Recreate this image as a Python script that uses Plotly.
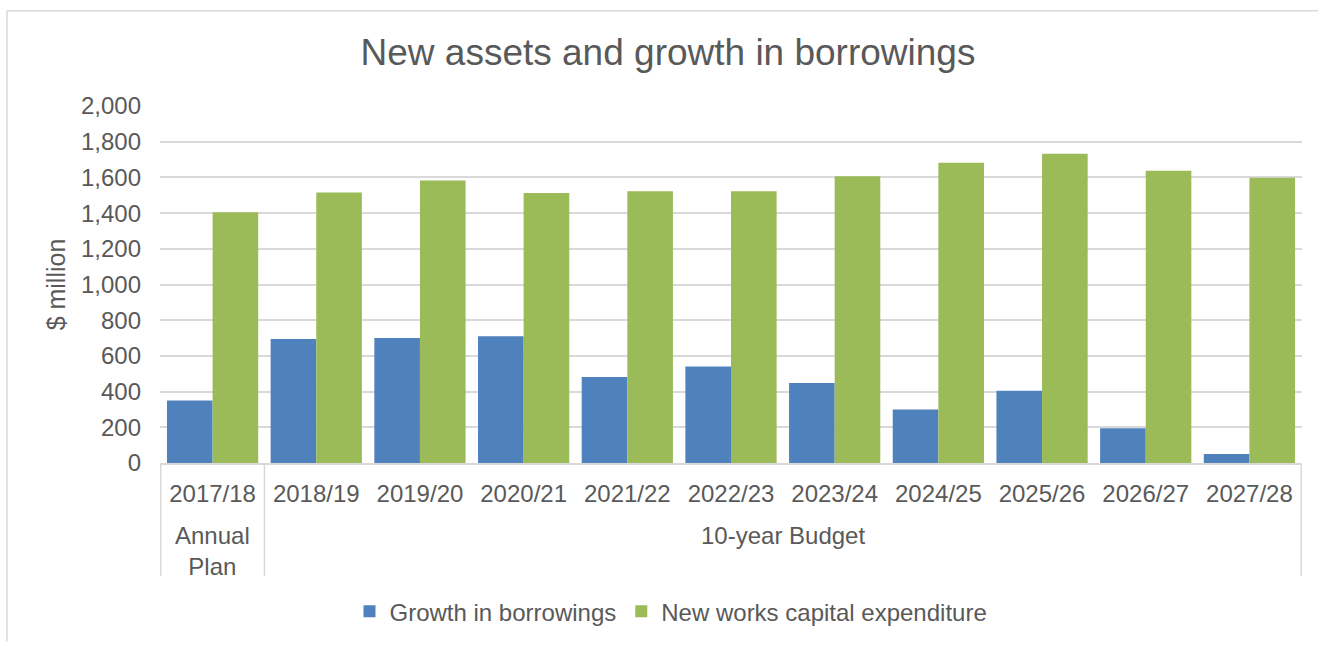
import plotly.graph_objects as go

# Financial years, grouped by planning document
years = ["2017/18", "2018/19", "2019/20", "2020/21", "2021/22", "2022/23",
         "2023/24", "2024/25", "2025/26", "2026/27", "2027/28"]
group_names = ["Annual<br>Plan", "10-year Budget"]
group_sizes = [1, 10]

# $ million
growth_in_borrowings = [350, 695, 700, 710, 482, 540, 448, 300, 405, 195, 50]
new_works_capex = [1405, 1515, 1583, 1512, 1522, 1522, 1606, 1682, 1732, 1637, 1598]

BLUE = "#4F81BD"
GREEN = "#9BBB59"
GRID = "#D9D9D9"
TEXT = "#595959"
FONT = "Liberation Sans, Arial, sans-serif"

# plot-area pixel geometry
W, H = 1318, 646
L, R, T, B = 160, 16, 106, 180
PW, PH = W - L - R, H - T - B


def px_x(x):
    return (x - L) / PW


def px_y(y):
    return (H - B - y) / PH


fig = go.Figure()
fig.add_trace(go.Bar(x=years, y=growth_in_borrowings,
                     name="Growth in borrowings", marker_color=BLUE,
                     marker_line_width=0))
fig.add_trace(go.Bar(x=years, y=new_works_capex,
                     name="New works capital expenditure", marker_color=GREEN,
                     marker_line_width=0))

fig.update_layout(
    width=W, height=H,
    margin=dict(l=L, r=R, t=T, b=B),
    paper_bgcolor="white", plot_bgcolor="white",
    barmode="group", bargap=0.12, bargroupgap=0,
    font=dict(family=FONT, size=24, color=TEXT),
    title=dict(text="New assets and growth in borrowings",
               font=dict(family=FONT, size=37, color=TEXT),
               x=668 / W, xanchor="center", xref="container",
               y=1 - 52 / H, yanchor="middle", yref="container"),
    legend=dict(orientation="h", x=px_x(671), xanchor="center",
                y=px_y(616), yanchor="middle",
                font=dict(family=FONT, size=24, color=TEXT),
                itemwidth=30, traceorder="normal"),
    showlegend=True,
)

fig.update_yaxes(
    range=[0, 2000], dtick=200, tickformat=",",
    showgrid=True, gridcolor=GRID, gridwidth=1.5,
    zeroline=False, showline=False, ticks="",
    ticklabelstandoff=18,
    tickfont=dict(family=FONT, size=24, color=TEXT),
    title=dict(text="$ million", font=dict(family=FONT, size=25, color=TEXT),
               standoff=8),
)

fig.update_xaxes(
    type="category",
    showline=True, linecolor=GRID, linewidth=1.5,
    showgrid=False, ticks="",
    ticklabelstandoff=8,
    tickfont=dict(family=FONT, size=24, color=TEXT),
)

# group labels and dividers beneath the year labels
start = 0
boundaries = [-0.5]
for name, size in zip(group_names, group_sizes):
    centre = start + (size - 1) / 2
    fig.add_annotation(text=name, xref="x", yref="paper",
                       x=centre, y=px_y(523), xanchor="center", yanchor="top",
                       showarrow=False,
                       font=dict(family=FONT, size=24, color=TEXT))
    start += size
    boundaries.append(start - 0.5)

for bx in boundaries:
    fig.add_shape(type="line", xref="x", yref="paper",
                  x0=bx, x1=bx, y0=0, y1=px_y(580),
                  line=dict(color=GRID, width=1.5))

# chart-area border along the top and left edges
fig.add_shape(type="line", xref="paper", yref="paper",
              x0=px_x(7), x1=px_x(W), y0=px_y(10), y1=px_y(10),
              line=dict(color=GRID, width=1.5))
fig.add_shape(type="line", xref="paper", yref="paper",
              x0=px_x(7), x1=px_x(7), y0=px_y(10), y1=px_y(H),
              line=dict(color=GRID, width=1.5))

fig.write_html("out.html")
